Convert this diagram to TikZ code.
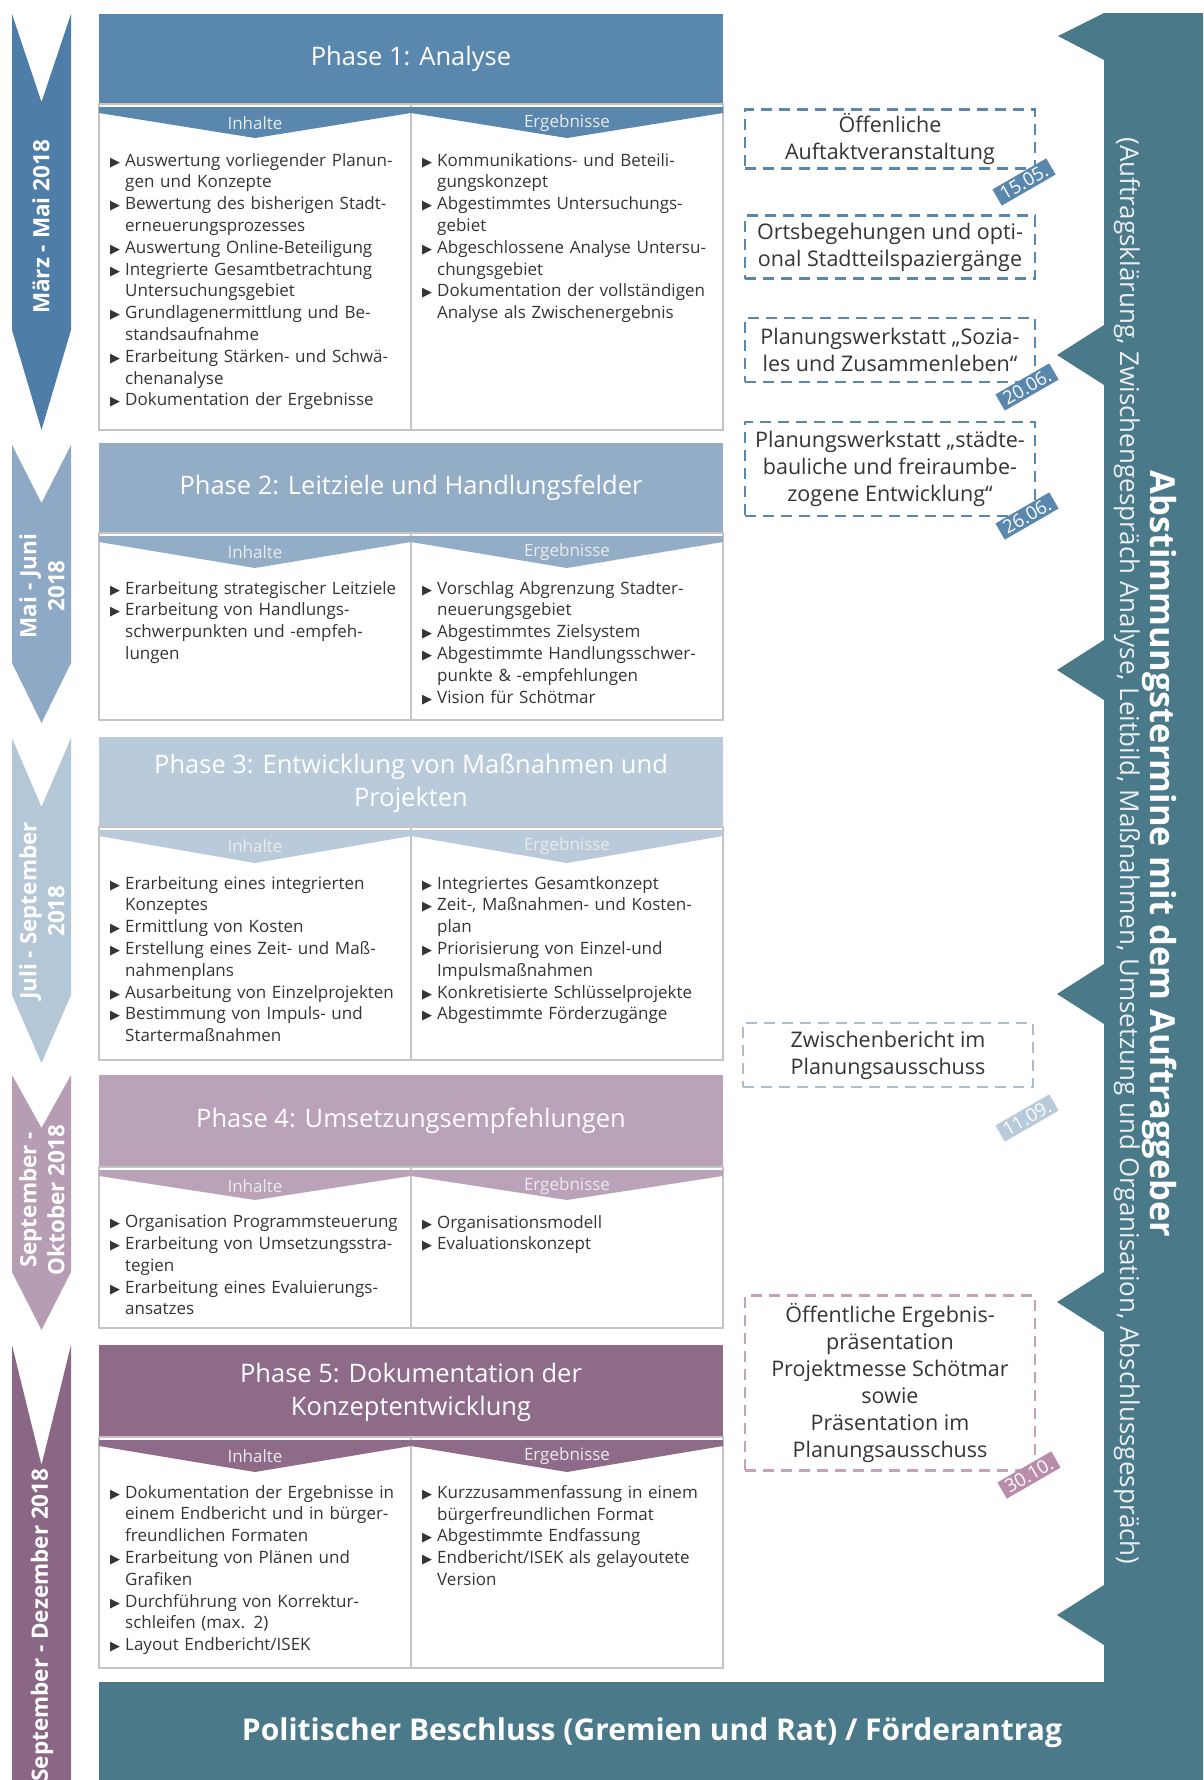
\documentclass[tikz,border=0pt]{standalone}
\usepackage{fontspec}
\setmainfont{Open Sans}
\newfontfamily\bulletfont{DejaVu Sans}
\definecolor{pA}{HTML}{5A87AD}
\definecolor{pAarr}{HTML}{4E7DA7}
\definecolor{pB}{HTML}{93ADC7}
\definecolor{pBarr}{HTML}{8EA9C5}
\definecolor{pC}{HTML}{B9CBDA}
\definecolor{pCarr}{HTML}{B4C7D7}
\definecolor{pD}{HTML}{BAA3B8}
\definecolor{pDarr}{HTML}{B69DB3}
\definecolor{pE}{HTML}{8D6B89}
\definecolor{pEarr}{HTML}{8A6885}
\definecolor{bandteal}{HTML}{4A7A8A}
\definecolor{textgray}{HTML}{353535}
\definecolor{bordergray}{HTML}{C4C4C4}
\definecolor{evgray}{HTML}{AFBCCB}
\definecolor{evmauve}{HTML}{C5A1BA}
\definecolor{tagmauve}{HTML}{B98CAC}
\newcommand\bitem[1]{\hangindent=15pt\hangafter=1\noindent\hbox to 15pt{\bulletfont\fontsize{13}{10}\selectfont ▶\hfil}#1\par}
\newcommand\phasebox[6]{%
  \fill[#6] (99,#2) rectangle (723,#3);
  \draw[bordergray, line width=1.2pt] (99,#3) rectangle (723,#5);
  \draw[bordergray, line width=1.2pt] (411,#3) -- (411,#5);
  \fill[#6] (99,{#3+3}) -- (411,{#3+3}) -- (411,{#3+9}) -- (255,#4) -- (99,{#3+9}) -- cycle;
  \fill[#6] (411,{#3+3}) -- (723,{#3+3}) -- (723,{#3+9}) -- (567,#4) -- (411,{#3+9}) -- cycle;
  \node[wlabel] (#1in) at (255,{#3+19}) {Inhalte};
  \node[wlabel] (#1erg) at (567,{#3+19}) {Ergebnisse};
}
\newcommand\timearrow[5]{%
  \fill[#5] (12,#1) -- (41.5,#2) -- (71,#1) -- (71,#3) -- (41.5,#4) -- (12,#3) -- cycle;}
\begin{document}
\begin{tikzpicture}[x=1pt,y=-1pt,
  phasehead/.style={text=white, font=\fontsize{25.5}{33}\selectfont, align=center},
  wlabel/.style={text=white!92!black, font=\fontsize{17}{19}\selectfont},
  bullets/.style={anchor=north west, inner sep=0pt, text width=300pt, align=left, text=textgray, font=\fontsize{17}{21.8}\selectfont},
  evbox/.style={draw, dash pattern=on 11pt off 7pt, line width=2.8pt, minimum width=290pt, inner sep=0pt, align=center, text=textgray, font=\fontsize{21.5}{27}\selectfont},
  datetag/.style={text=white, rotate=30, inner xsep=5pt, inner ysep=2.5pt, font=\fontsize{18.5}{18.5}\selectfont},
  armlabel/.style={rotate=90, text=white, align=center, font=\bfseries\fontsize{22.5}{28}\selectfont}]
\useasboundingbox (0,0) rectangle (1203,1780);
\fill[white] (0,0) rectangle (1203,1780);

% right band and bottom band
\fill[bandteal] (1203,13) -- (1104,13) -- (1058,36) -- (1104,60)
  -- (1104,325) -- (1057,355) -- (1104,385)
  -- (1104,640) -- (1057,670) -- (1104,700)
  -- (1104,964) -- (1057,994) -- (1104,1024)
  -- (1104,1272) -- (1057,1302) -- (1104,1332)
  -- (1104,1585) -- (1057,1615) -- (1104,1645)
  -- (1104,1682) -- (99,1682) -- (99,1780) -- (1203,1780) -- cycle;
\node[rotate=-90, text=white, font=\bfseries\fontsize{34.5}{38}\selectfont] (bandtitle) at (1160,854) {Abstimmungstermine mit dem Auftraggeber};
\node[rotate=-90, text=white!88!bandteal, font=\fontsize{26}{29}\selectfont] (bandsub) at (1127,851) {(Auftragsklärung, Zwischengespräch Analyse, Leitbild, Maßnahmen, Umsetzung und Organisation, Abschlussgespräch)};
\node[text=white, font=\bfseries\fontsize{30}{34}\selectfont] (beschluss) at (652,1733) {Politischer Beschluss (Gremien und Rat) / Förderantrag};

% time arrows
\timearrow{14}{102}{330}{430}{pAarr}
\timearrow{445}{503}{663}{723}{pBarr}
\timearrow{738}{807}{995}{1063}{pCarr}
\timearrow{1075}{1128}{1272}{1330}{pDarr}
\fill[pEarr] (12,1345) -- (41.5,1465) -- (71,1345) -- (71,1780) -- (12,1780) -- cycle;
\node[armlabel] (t1) at (41,227) {März - Mai 2018};
\node[armlabel] (t2) at (42,586) {Mai - Juni\\2018};
\node[armlabel] (t3) at (42,911) {Juli - September\\2018};
\node[armlabel] (t4) at (42,1200) {September -\\Oktober 2018};
\node[armlabel] (t5) at (42,1625) {September - Dezember 2018};

% Phase 1
\phasebox{pa}{14}{104}{138}{430}{pA}
\node[phasehead] (ha) at (411,59) {Phase 1: Analyse};
\node[bullets] (ba) at (110,153) {%
\bitem{Auswertung vorliegender Planun-\newline gen und Konzepte}
\bitem{Bewertung des bisherigen Stadt-\newline erneuerungsprozesses}
\bitem{Auswertung Online-Beteiligung}
\bitem{Integrierte Gesamtbetrachtung\newline Untersuchungsgebiet}
\bitem{Grundlagenermittlung und Be-\newline standsaufnahme}
\bitem{Erarbeitung Stärken- und Schwä-\newline chenanalyse}
\bitem{Dokumentation der Ergebnisse}};
\node[bullets] (ea) at (422,153) {%
\bitem{Kommunikations- und Beteili-\newline gungskonzept}
\bitem{Abgestimmtes Untersuchungs-\newline gebiet}
\bitem{Abgeschlossene Analyse Untersu-\newline chungsgebiet}
\bitem{Dokumentation der vollständigen\newline Analyse als Zwischenergebnis}};

% Phase 2
\phasebox{pb}{443}{533}{568}{720}{pB}
\node[phasehead] (hb) at (411,488) {Phase 2: Leitziele und Handlungsfelder};
\node[bullets] (bb) at (110,581) {%
\bitem{Erarbeitung strategischer Leitziele}
\bitem{Erarbeitung von Handlungs-\newline schwerpunkten und -empfeh-\newline lungen}};
\node[bullets] (eb) at (422,581) {%
\bitem{Vorschlag Abgrenzung Stadter-\newline neuerungsgebiet}
\bitem{Abgestimmtes Zielsystem}
\bitem{Abgestimmte Handlungsschwer-\newline punkte \& -empfehlungen}
\bitem{Vision für Schötmar}};

% Phase 3
\phasebox{pc}{737}{827}{863}{1060}{pC}
\node[phasehead] (hc) at (411,783) {Phase 3: Entwicklung von Maßnahmen und\\Projekten};
\node[bullets] (bc) at (110,876) {%
\bitem{Erarbeitung eines integrierten\newline Konzeptes}
\bitem{Ermittlung von Kosten}
\bitem{Erstellung eines Zeit- und Maß-\newline nahmenplans}
\bitem{Ausarbeitung von Einzelprojekten}
\bitem{Bestimmung von Impuls- und\newline Startermaßnahmen}};
\node[bullets] (ec) at (422,876) {%
\bitem{Integriertes Gesamtkonzept}
\bitem{Zeit-, Maßnahmen- und Kosten-\newline plan}
\bitem{Priorisierung von Einzel-und\newline Impulsmaßnahmen}
\bitem{Konkretisierte Schlüsselprojekte}
\bitem{Abgestimmte Förderzugänge}};

% Phase 4
\phasebox{pd}{1075}{1167}{1200}{1328}{pD}
\node[phasehead] (hd) at (411,1121) {Phase 4: Umsetzungsempfehlungen};
\node[bullets] (bd) at (110,1215) {%
\bitem{Organisation Programmsteuerung}
\bitem{Erarbeitung von Umsetzungsstra-\newline tegien}
\bitem{Erarbeitung eines Evaluierungs-\newline ansatzes}};
\node[bullets] (ed) at (422,1215) {%
\bitem{Organisationsmodell}
\bitem{Evaluationskonzept}};

% Phase 5
\phasebox{pe}{1345}{1437}{1472}{1668}{pE}
\node[phasehead] (he) at (411,1392) {Phase 5: Dokumentation der\\Konzeptentwicklung};
\node[bullets] (be) at (110,1485) {%
\bitem{Dokumentation der Ergebnisse in\newline einem Endbericht und in bürger-\newline freundlichen Formaten}
\bitem{Erarbeitung von Plänen und\newline Grafiken}
\bitem{Durchführung von Korrektur-\newline schleifen (max. 2)}
\bitem{Layout Endbericht/ISEK}};
\node[bullets] (ee) at (422,1485) {%
\bitem{Kurzzusammenfassung in einem\newline bürgerfreundlichen Format}
\bitem{Abgestimmte Endfassung}
\bitem{Endbericht/ISEK als gelayoutete\newline Version}};

% events
\node[evbox, draw=pA, minimum height=59pt] (ev1) at (890,139) {Öffenliche\\Auftaktveranstaltung};
\node[evbox, draw=pA, minimum height=63pt] (ev2) at (890,247) {Ortsbegehungen und opti-\\onal Stadtteilspaziergänge};
\node[evbox, draw=pA, minimum height=64pt] (ev3) at (890,350) {Planungswerkstatt „Sozia-\\les und Zusammenleben“};
\node[evbox, draw=pA, minimum height=94pt] (ev4) at (890,469) {Planungswerkstatt „städte-\\bauliche und freiraumbe-\\zogene Entwicklung“};
\node[evbox, draw=evgray, minimum height=64pt] (ev5) at (888,1055) {Zwischenbericht im\\Planungsausschuss};
\node[evbox, draw=evmauve, minimum height=175pt] (ev6) at (890,1383) {Öffentliche Ergebnis-\\präsentation\\Projektmesse Schötmar\\sowie\\Präsentation im\\Planungsausschuss};
\node[datetag, fill=pA] (d1) at (1024,182) {15.05.};
\node[datetag, fill=pA] (d2) at (1027,387) {20.06.};
\node[datetag, fill=pA] (d3) at (1027,516) {26.06.};
\node[datetag, fill=pC] (d4) at (1027,1118) {11.09.};
\node[datetag, fill=tagmauve] (d5) at (1029,1475) {30.10.};
\end{tikzpicture}
\end{document}
